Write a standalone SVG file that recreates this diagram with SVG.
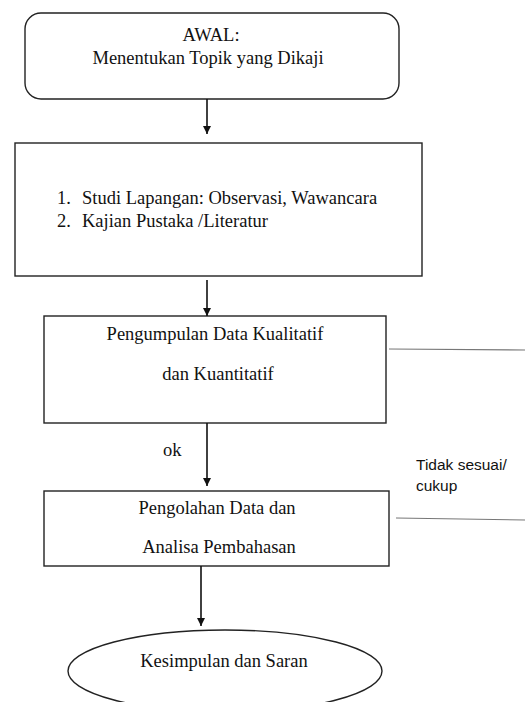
<svg xmlns="http://www.w3.org/2000/svg" width="525" height="702" viewBox="0 0 525 702">
<defs>
<style>
.box{fill:#fff;stroke:#222;stroke-width:1.4}
.t{font-family:"Liberation Serif","Times New Roman",serif;font-size:18.5px;fill:#111}
.c{text-anchor:middle}
.s{font-family:"Liberation Sans",Arial,sans-serif;font-size:15.5px;fill:#111}
.con{stroke:#111;stroke-width:1.6;fill:none}
.side{stroke:#777;stroke-width:1.2;fill:none}
</style>
<marker id="ah" viewBox="0 0 10 10" refX="10" refY="5" markerWidth="8" markerHeight="8" markerUnits="userSpaceOnUse" orient="auto">
<path d="M0,0 L10,5 L0,10 z" fill="#111"/>
</marker>
</defs>
<rect width="525" height="702" fill="#fff"/>
<g id="n1">
<rect class="box" x="25" y="13" width="374" height="86" rx="16"/>
<text class="t c" x="211" y="41">AWAL:</text>
<text class="t c" x="208" y="64">Menentukan Topik yang Dikaji</text>
</g>
<g id="n2">
<rect class="box" x="15" y="143" width="407" height="133"/>
<text class="t" x="57" y="204">1.</text>
<text class="t" x="82" y="204">Studi Lapangan: Observasi, Wawancara</text>
<text class="t" x="57" y="227">2.</text>
<text class="t" x="82" y="227">Kajian Pustaka /Literatur</text>
</g>
<g id="n3">
<rect class="box" x="44" y="316" width="342" height="107"/>
<text class="t c" x="215" y="340">Pengumpulan Data Kualitatif</text>
<text class="t c" x="218" y="380">dan Kuantitatif</text>
</g>
<g id="n4">
<rect class="box" x="44" y="491" width="345" height="75"/>
<text class="t c" x="217" y="514">Pengolahan Data dan</text>
<text class="t c" x="219" y="553">Analisa Pembahasan</text>
</g>
<g id="n5">
<ellipse class="box" cx="225" cy="671" rx="157" ry="41"/>
<text class="t c" x="224" y="667">Kesimpulan dan Saran</text>
</g>
<g id="connectors">
<line class="con" x1="207" y1="99" x2="207" y2="134" marker-end="url(#ah)"/>
<line class="con" x1="207" y1="280" x2="207" y2="316" marker-end="url(#ah)"/>
<line class="con" x1="207" y1="423" x2="207" y2="486" marker-end="url(#ah)"/>
<line class="con" x1="201" y1="566" x2="201" y2="626" marker-end="url(#ah)"/>
<line class="side" x1="389" y1="349" x2="525" y2="350"/>
<line class="side" x1="396" y1="518" x2="525" y2="520"/>
<text class="t" x="163" y="456">ok</text>
<text class="s" x="416" y="470">Tidak sesuai/</text>
<text class="s" x="416" y="491">cukup</text>
</g>
</svg>
